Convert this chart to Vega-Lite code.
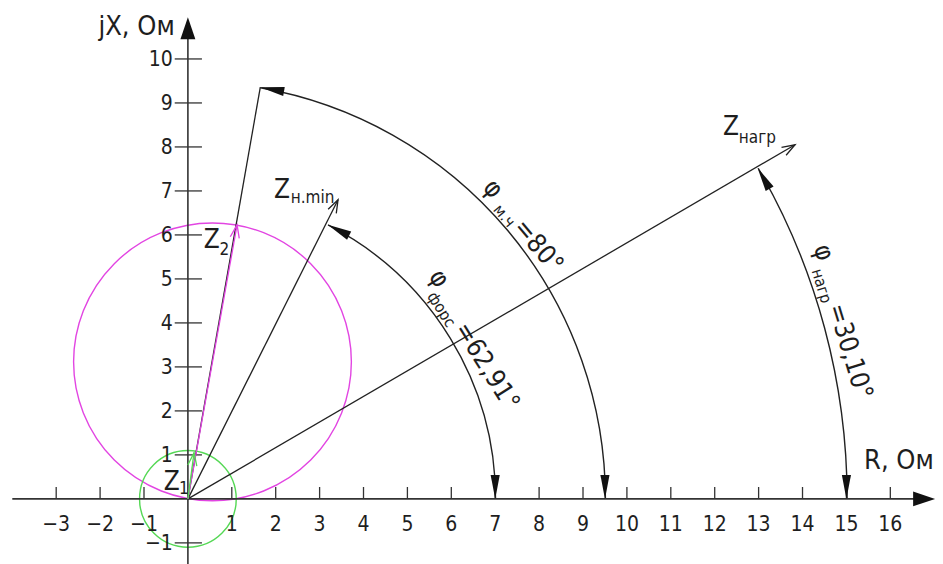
{
  "$schema": "https://vega.github.io/schema/vega-lite/v6.json",
  "width": 943,
  "height": 564,
  "autosize": {"type": "none"},
  "padding": 0,
  "background": "white",
  "config": {
    "view": {"stroke": null},
    "text": {"font": "Liberation Sans Narrow, DejaVu Sans Condensed, Liberation Sans, sans-serif", "color": "#1e1e1e"}
  },
  "encoding": {
    "x": {"field": "x", "type": "quantitative", "scale": {"domain": [-4.28, 17.2], "nice": false, "zero": false}, "axis": null},
    "y": {"field": "y", "type": "quantitative", "scale": {"domain": [-1.48, 11.34], "nice": false, "zero": false}, "axis": null}
  },
  "layer": [
    {
      "data": {"values": [
        {"x": 0, "y": 0, "r": 7, "a0": 0, "a1": 62.91, "s": "φфорс"},
        {"x": 0, "y": 0, "r": 9.5, "a0": 0, "a1": 80, "s": "φм.ч"},
        {"x": 0, "y": 0, "r": 15, "a0": 0, "a1": 30.1, "s": "φнагр"},
        {"x": 0.56, "y": 3.115, "r": 3.16, "a0": 0, "a1": 360, "s": "Z2"},
        {"x": 0, "y": 0, "r": 1.1, "a0": 0, "a1": 360, "s": "Z1"}
      ]},
      "mark": {"type": "arc", "filled": false, "strokeWidth": 1.4},
      "encoding": {
        "theta": {"field": "a0", "type": "quantitative", "stack": null, "scale": {"domain": [0, 360], "range": [1.5707963, -4.712389]}},
        "theta2": {"field": "a1"},
        "radius": {"field": "r", "type": "quantitative", "scale": {"type": "linear", "domain": [0, 10], "range": [0, 439.5], "zero": true}},
        "radius2": {"field": "r"},
        "color": {"field": "s", "type": "nominal", "legend": null, "scale": {"domain": ["Zнагр", "Zн.min", "φм.ч", "φфорс", "φнагр", "Z2", "Z1"], "range": ["#222222", "#222222", "#222222", "#222222", "#222222", "#e245e2", "#55d855"]}}
      }
    },
    {
      "data": {"values": [
        {"x": -4.0, "y": 0, "x2": 16.6, "y2": 0},
        {"x": 0, "y": -1.48, "x2": 0, "y2": 10.6}
      ]},
      "mark": {"type": "rule", "color": "#333333", "strokeWidth": 1.6},
      "encoding": {"x2": {"field": "x2"}, "y2": {"field": "y2"}}
    },
    {
      "data": {"values": [
        {"x": -3, "y": 0}, {"x": -2, "y": 0}, {"x": -1, "y": 0}, {"x": 1, "y": 0}, {"x": 2, "y": 0},
        {"x": 3, "y": 0}, {"x": 4, "y": 0}, {"x": 5, "y": 0}, {"x": 6, "y": 0}, {"x": 7, "y": 0},
        {"x": 8, "y": 0}, {"x": 9, "y": 0}, {"x": 10, "y": 0}, {"x": 11, "y": 0}, {"x": 12, "y": 0},
        {"x": 13, "y": 0}, {"x": 14, "y": 0}, {"x": 15, "y": 0}, {"x": 16, "y": 0}
      ]},
      "layer": [
        {"mark": {"type": "rule", "color": "#333333", "strokeWidth": 1.3}, "encoding": {"y2": {"datum": 0.27}}},
        {"mark": {"type": "text", "fontSize": 21, "align": "center", "baseline": "middle", "dy": 26}, "encoding": {"text": {"field": "x", "type": "quantitative", "format": "d"}}}
      ]
    },
    {
      "data": {"values": [
        {"x": 0, "y": -1}, {"x": 0, "y": 1}, {"x": 0, "y": 2}, {"x": 0, "y": 3}, {"x": 0, "y": 4},
        {"x": 0, "y": 5}, {"x": 0, "y": 6}, {"x": 0, "y": 7}, {"x": 0, "y": 8}, {"x": 0, "y": 9}, {"x": 0, "y": 10}
      ]},
      "layer": [
        {"mark": {"type": "rule", "color": "#333333", "strokeWidth": 1.3}, "encoding": {"x": {"datum": -0.3}, "x2": {"datum": 0.32}}},
        {"mark": {"type": "text", "fontSize": 21, "align": "right", "baseline": "middle", "dx": -15, "dy": 1}, "encoding": {"text": {"field": "y", "type": "quantitative", "format": "d"}}}
      ]
    },
    {
      "data": {"values": [
        {"x": 0, "y": 0, "x2": 13.83, "y2": 8.05, "s": "Zнагр"},
        {"x": 0, "y": 0, "x2": 3.42, "y2": 6.8, "s": "Zн.min"},
        {"x": 0, "y": 0, "x2": 1.65, "y2": 9.36, "s": "φм.ч"},
        {"x": 0, "y": 0, "x2": 1.12, "y2": 6.23, "s": "Z2"},
        {"x": 0, "y": 0, "x2": 0.14, "y2": 1.05, "s": "Z1"}
      ]},
      "mark": {"type": "rule", "strokeWidth": 1.3},
      "encoding": {
        "x2": {"field": "x2"},
        "y2": {"field": "y2"},
        "color": {"field": "s", "type": "nominal", "legend": null}
      }
    },
    {
      "data": {"values": [
        {"x": 13.83, "y": 8.05, "dir": 30.2, "s": "Zнагр"},
        {"x": 3.42, "y": 6.8, "dir": 63.3, "s": "Zн.min"},
        {"x": 1.12, "y": 6.23, "dir": 79.8, "s": "Z2"},
        {"x": 0.14, "y": 1.05, "dir": 82.4, "s": "Z1"}
      ]},
      "mark": {"type": "point", "filled": false, "shape": "M-2,-0.7L0,0L-2,0.7", "size": 169, "strokeWidth": 1.3, "opacity": 1},
      "encoding": {
        "angle": {"field": "dir", "type": "quantitative", "scale": {"domain": [0, 360], "range": [0, -360]}},
        "color": {"field": "s", "type": "nominal", "legend": null}
      }
    },
    {
      "data": {"values": [
        {"x": 3.186, "y": 6.233, "dir": 152.91},
        {"x": 7, "y": 0, "dir": -90},
        {"x": 1.65, "y": 9.356, "dir": 170},
        {"x": 9.5, "y": 0, "dir": -90},
        {"x": 12.977, "y": 7.523, "dir": 120.1},
        {"x": 15, "y": 0, "dir": -90}
      ]},
      "mark": {"type": "point", "filled": true, "shape": "M0,0L-2,-0.38L-2,0.38Z", "size": 576, "color": "#111111", "opacity": 1, "strokeWidth": 0},
      "encoding": {
        "angle": {"field": "dir", "type": "quantitative", "scale": {"domain": [0, 360], "range": [0, -360]}}
      }
    },
    {
      "data": {"values": [
        {"x": 17.02, "y": 0, "dir": 0},
        {"x": 0, "y": 10.95, "dir": 90}
      ]},
      "mark": {"type": "point", "filled": true, "shape": "M0,0L-2,-0.68L-2,0.68Z", "size": 484, "color": "#111111", "opacity": 1, "strokeWidth": 0},
      "encoding": {
        "angle": {"field": "dir", "type": "quantitative", "scale": {"domain": [0, 360], "range": [0, -360]}}
      }
    },
    {
      "data": {"values": [
        {"x": -0.3, "y": 10.55, "t": "jX, Ом"},
        {"x": 16.99, "y": 0.68, "t": "R, Ом"}
      ]},
      "mark": {"type": "text", "fontSize": 27, "align": "right", "baseline": "alphabetic"},
      "encoding": {"text": {"field": "t"}}
    },
    {
      "data": {"values": [
        {"x": 12.19, "y": 8.27, "t": "Z"},
        {"x": 1.96, "y": 6.84, "t": "Z"},
        {"x": 0.36, "y": 5.7, "t": "Z"},
        {"x": -0.55, "y": 0.2, "t": "Z"}
      ]},
      "mark": {"type": "text", "fontSize": 26, "align": "left", "baseline": "alphabetic"},
      "encoding": {"text": {"field": "t"}}
    },
    {
      "data": {"values": [
        {"x": 12.55, "y": 8.09, "t": "нагр"},
        {"x": 2.34, "y": 6.73, "t": "н.min"},
        {"x": 0.72, "y": 5.55, "t": "2"},
        {"x": -0.2, "y": 0.1, "t": "1"}
      ]},
      "mark": {"type": "text", "fontSize": 17, "align": "left", "baseline": "alphabetic"},
      "encoding": {"text": {"field": "t"}}
    },
    {
      "data": {"values": [
        {"x": 6.95, "y": 7.05, "dir": -50, "t": "φ"},
        {"x": 7.98, "y": 5.74, "dir": -50, "t": "=80°"},
        {"x": 5.72, "y": 5.01, "dir": -58, "t": "φ"},
        {"x": 6.81, "y": 3.01, "dir": -58, "t": "=62,91°"},
        {"x": 14.48, "y": 5.6, "dir": -73, "t": "φ"},
        {"x": 15.08, "y": 3.35, "dir": -73, "t": "=30,10°"}
      ]},
      "mark": {"type": "text", "fontSize": 26, "align": "center", "baseline": "middle"},
      "encoding": {
        "text": {"field": "t"},
        "angle": {"field": "dir", "type": "quantitative", "scale": {"domain": [0, 360], "range": [0, -360]}}
      }
    },
    {
      "data": {"values": [
        {"x": 7.2, "y": 6.43, "dir": -50, "t": "м.ч"},
        {"x": 5.77, "y": 4.3, "dir": -58, "t": "форс"},
        {"x": 14.43, "y": 4.84, "dir": -73, "t": "нагр"}
      ]},
      "mark": {"type": "text", "fontSize": 16, "align": "center", "baseline": "middle"},
      "encoding": {
        "text": {"field": "t"},
        "angle": {"field": "dir", "type": "quantitative", "scale": {"domain": [0, 360], "range": [0, -360]}}
      }
    }
  ]
}
